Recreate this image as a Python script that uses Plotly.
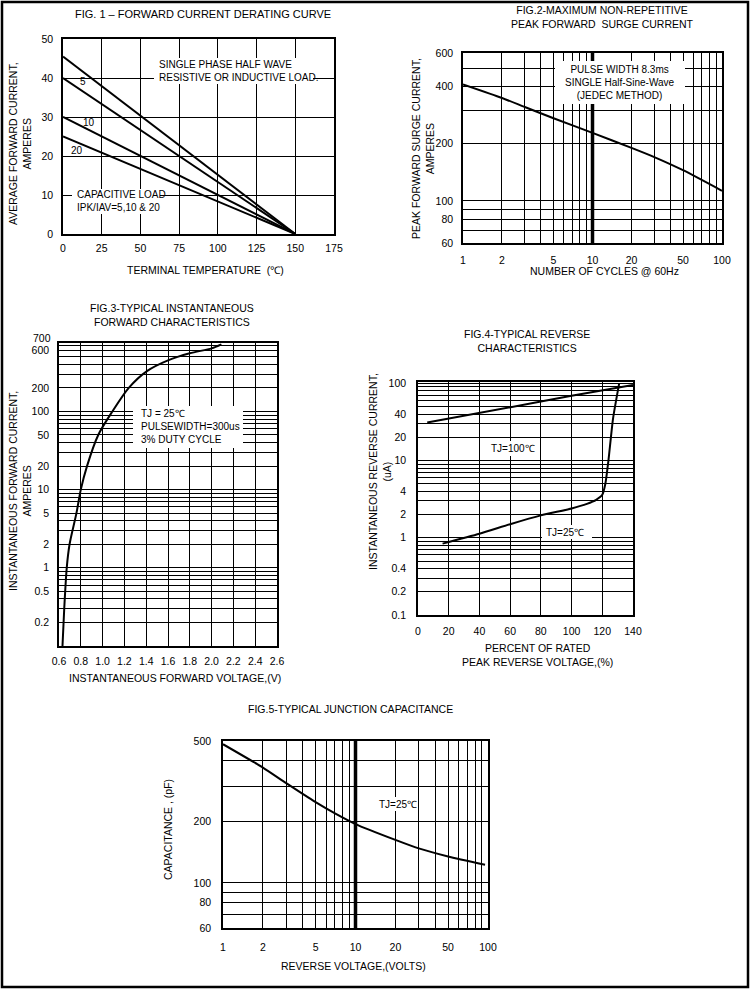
import math
import plotly.graph_objects as go

W, H = 750, 990
FONT = "Liberation Sans, Arial, sans-serif"

# ---------------- data ----------------
# Fig.1 forward current derating
f1_temp = [0, 150]
f1_resistive = [45.5, 0]
f1_cap5 = [40, 0]
f1_cap10 = [30, 0]
f1_cap20 = [25, 0]
f1_xticks = [0, 25, 50, 75, 100, 125, 150, 175]
f1_yticks = [0, 10, 20, 30, 40, 50]

# Fig.2 peak forward surge current
f2_cycles = [1, 2, 3, 5, 10, 20, 30, 50, 100]
f2_current = [410, 348, 312, 272, 228, 190, 170, 145, 113]
f2_xgrid = [1, 2, 3, 4, 5, 6, 7, 8, 9, 10, 20, 30, 40, 50, 60, 70, 80, 90, 100]
f2_xlabels = ["1", "2", "", "", "5", "", "", "", "", "10", "20", "", "", "50", "", "", "", "", "100"]
f2_ygrid = [60, 70, 80, 90, 100, 200, 300, 400, 500, 600]
f2_ylabels = ["60", "", "80", "", "100", "200", "", "400", "", "600"]

# Fig.3 forward characteristics
f3_voltage = [0.632, 0.648, 0.671, 0.697, 0.76, 0.80, 0.857, 0.96, 1.09, 1.24, 1.41, 1.6, 1.8, 2.0, 2.09]
f3_current = [0.1, 0.3, 1, 2, 5, 10, 20, 50, 100, 200, 330, 450, 555, 640, 720]
f3_xticks = [0.6, 0.8, 1.0, 1.2, 1.4, 1.6, 1.8, 2.0, 2.2, 2.4, 2.6]
f3_ygrid = [0.1, 0.2, 0.3, 0.4, 0.5, 0.6, 0.7, 0.8, 0.9,
            1, 2, 3, 4, 5, 6, 7, 8, 9,
            10, 20, 30, 40, 50, 60, 70, 80, 90,
            100, 200, 300, 400, 500, 600, 700]
f3_ylabels = ["", "0.2", "", "", "0.5", "", "", "", "",
              "1", "2", "", "", "5", "", "", "", "",
              "10", "20", "", "", "50", "", "", "", "",
              "100", "200", "", "", "", "600", ""]
f3_top_label = "700"

# Fig.4 reverse characteristics
f4_pct_100 = [6, 40, 60, 80, 100, 120, 140]
f4_ir_100 = [31, 41, 49, 58, 69, 81, 95]
f4_pct_25 = [16, 40, 60, 80, 100, 110, 116, 120, 122, 124, 127, 131]
f4_ir_25 = [0.84, 1.13, 1.5, 1.95, 2.4, 2.75, 3.1, 3.6, 5, 10, 35, 100]
f4_xticks = [0, 20, 40, 60, 80, 100, 120, 140]
f4_ygrid = [0.1, 0.2, 0.3, 0.4, 0.5, 0.6, 0.7, 0.8, 0.9,
            1, 2, 3, 4, 5, 6, 7, 8, 9,
            10, 20, 30, 40, 50, 60, 70, 80, 90, 100]
f4_ylabels = ["0.1", "0.2", "", "0.4", "", "", "", "", "",
              "1", "2", "", "4", "", "", "", "", "",
              "10", "20", "", "40", "", "", "", "", "", "100"]

# Fig.5 junction capacitance
f5_vr = [1, 2, 3, 5, 7, 10, 20, 30, 50, 95]
f5_cap = [482, 370, 310, 250, 220, 195, 163, 148, 135, 123]
f5_xgrid = f2_xgrid
f5_xlabels = f2_xlabels
f5_ygrid = [60, 70, 80, 90, 100, 200, 300, 400, 500]
f5_ylabels = ["60", "", "80", "", "100", "200", "", "", "500"]

# ---------------- helpers ----------------
def px(x):
    return x / W


def py(y):
    return 1 - y / H


def dom(x0, x1, y0, y1):
    return [px(x0), px(x1)], [py(y1), py(y0)]


def axis(domain, anchor, standoff=4, **kw):
    d = dict(domain=domain, anchor=anchor, showgrid=True, gridcolor="black", gridwidth=1,
             showline=True, mirror=True, linecolor="black", linewidth=1.5,
             zeroline=False, ticks="", ticklabelstandoff=standoff, automargin=False,
             tickfont=dict(family=FONT, size=10.5, color="black"), fixedrange=True)
    d.update(kw)
    return d


line = dict(color="black", width=2)
fig = go.Figure()

for ys in (f1_resistive, f1_cap5, f1_cap10, f1_cap20):
    fig.add_trace(go.Scatter(x=f1_temp, y=ys, mode="lines", line=line, xaxis="x", yaxis="y",
                             showlegend=False, hoverinfo="skip"))
fig.add_trace(go.Scatter(x=f2_cycles, y=f2_current, mode="lines", line=dict(line, shape="spline", smoothing=0.6),
                         xaxis="x2", yaxis="y2", showlegend=False))
fig.add_trace(go.Scatter(x=f3_voltage, y=f3_current, mode="lines", line=dict(line, shape="spline", smoothing=0.8),
                         xaxis="x3", yaxis="y3", showlegend=False))
fig.add_trace(go.Scatter(x=f4_pct_100, y=f4_ir_100, mode="lines", line=line,
                         xaxis="x4", yaxis="y4", showlegend=False))
fig.add_trace(go.Scatter(x=f4_pct_25, y=f4_ir_25, mode="lines", line=dict(line, shape="spline", smoothing=0.6),
                         xaxis="x4", yaxis="y4", showlegend=False))
fig.add_trace(go.Scatter(x=f5_vr, y=f5_cap, mode="lines", line=dict(line, shape="spline", smoothing=0.6),
                         xaxis="x5", yaxis="y5", showlegend=False))

d1x, d1y = dom(63, 334, 39, 234)
d2x, d2y = dom(463, 722, 53, 243)
d3x, d3y = dom(59, 277, 343, 646)
d4x, d4y = dom(418, 633, 382, 615)
d5x, d5y = dom(223, 488, 741, 928)

fig.update_layout(
    width=W, height=H, margin=dict(l=0, r=0, t=0, b=0, pad=0, autoexpand=False),
    paper_bgcolor="white", plot_bgcolor="white", showlegend=False,
    font=dict(family=FONT, size=10.5, color="black"),
    xaxis=axis(d1x, "y", standoff=4, range=[0, 175], tickvals=f1_xticks),
    yaxis=axis(d1y, "x", standoff=6, range=[0, 50], tickvals=f1_yticks),
    xaxis2=axis(d2x, "y2", standoff=7, type="log", range=[0, 2], tickvals=f2_xgrid, ticktext=f2_xlabels),
    yaxis2=axis(d2y, "x2", standoff=6, type="log", range=[math.log10(60), math.log10(600)],
                tickvals=f2_ygrid, ticktext=f2_ylabels),
    xaxis3=axis(d3x, "y3", standoff=5, range=[0.6, 2.6], tickvals=f3_xticks,
                ticktext=[f"{v:.1f}" for v in f3_xticks]),
    yaxis3=axis(d3y, "x3", standoff=6, type="log", range=[math.log10(0.1), math.log10(750)],
                tickvals=f3_ygrid, ticktext=f3_ylabels),
    xaxis4=axis(d4x, "y4", standoff=6, range=[0, 140], tickvals=f4_xticks),
    yaxis4=axis(d4y, "x4", standoff=8, type="log", range=[math.log10(0.1), math.log10(104)],
                tickvals=f4_ygrid, ticktext=f4_ylabels),
    xaxis5=axis(d5x, "y5", standoff=9, type="log", range=[0, 2], tickvals=f5_xgrid, ticktext=f5_xlabels),
    yaxis5=axis(d5y, "x5", standoff=8, type="log", range=[math.log10(60), math.log10(500)],
                tickvals=f5_ygrid, ticktext=f5_ylabels),
)

shapes = []
# thick decade lines at 10
for xa, ya in (("x2", "y2"), ("x5", "y5")):
    shapes.append(dict(type="line", xref=xa, yref=f"{ya} domain", x0=10, x1=10, y0=0, y1=1,
                       line=dict(color="black", width=3.5), layer="below"))
# white text boxes (in paper space)
for (x0, y0, x1, y1) in [(154, 58, 313, 84), (72, 189, 160, 214), (555, 61, 685, 104),
                         (133, 406, 243, 448), (490, 441, 537, 456), (542, 525, 592, 539),
                         (380, 797, 417, 811)]:
    shapes.append(dict(type="rect", xref="paper", yref="paper", x0=px(x0), x1=px(x1), y0=py(y1), y1=py(y0),
                       line=dict(width=0), fillcolor="white", layer="above"))
# outer frame
shapes.append(dict(type="rect", xref="paper", yref="paper", x0=px(2), x1=px(748), y0=py(987), y1=py(2),
                   line=dict(color="black", width=2.5), fillcolor="rgba(0,0,0,0)", layer="above"))
fig.update_layout(shapes=shapes)

ann = []


def text(x, y, s, size=10.5, xanchor="center", angle=0, align="center"):
    ann.append(dict(x=px(x), y=py(y), xref="paper", yref="paper", text=s, showarrow=False,
                    xanchor=xanchor, yanchor="middle", textangle=angle, align=align,
                    font=dict(family=FONT, size=size, color="black")))


# titles
text(203, 14, "FIG. 1 – FORWARD CURRENT DERATING CURVE", size=11)
text(602, 17, "FIG.2-MAXIMUM NON-REPETITIVE<br>PEAK FORWARD  SURGE CURRENT")
text(172, 315, "FIG.3-TYPICAL INSTANTANEOUS<br>FORWARD CHARACTERISTICS")
text(527, 341, "FIG.4-TYPICAL REVERSE<br>CHARACTERISTICS")
text(350, 709, "FIG.5-TYPICAL JUNCTION CAPACITANCE")
# x axis titles
text(205, 270, "TERMINAL TEMPERATURE  (℃)")
text(604, 271, "NUMBER OF CYCLES @ 60Hz")
text(175, 678, "INSTANTANEOUS FORWARD VOLTAGE,(V)")
text(537, 655, "PERCENT OF RATED<br>PEAK REVERSE VOLTAGE,(%)")
text(353, 966, "REVERSE VOLTAGE,(VOLTS)")
# y axis titles
text(20, 144, "AVERAGE FORWARD CURRENT,<br>AMPERES", angle=-90)
text(423, 148, "PEAK FORWARD SURGE CURRENT,<br>AMPERES", angle=-90)
text(20, 491, "INSTANTANEOUS FORWARD CURRENT,<br>AMPERES", angle=-90)
text(380, 472, "INSTANTANEOUS REVERSE CURRENT,<br>(uA)", angle=-90)
text(168, 830, "CAPACITANCE , (pF)", angle=-90)
# top tick label of fig.3 (sits just above the 600 label)
text(53, 338, f3_top_label, xanchor="right")
# in-plot notes
text(157, 71, "SINGLE PHASE HALF WAVE<br>RESISTIVE OR INDUCTIVE LOAD.", size=10, xanchor="left", align="left")
text(75, 201, "CAPACITIVE LOAD<br>IPK/IAV=5,10 & 20", size=10, xanchor="left", align="left")
text(83, 82, "5", size=10)
text(89, 122, "10", size=10)
text(77, 151, "20", size=10)
text(620, 83, "PULSE WIDTH 8.3ms<br>SINGLE Half-Sine-Wave<br>(JEDEC METHOD)", size=10)
text(139, 426, "TJ = 25℃<br>PULSEWIDTH=300us<br>3% DUTY CYCLE", size=10, xanchor="left", align="left")
text(513, 449, "TJ=100℃", size=10)
text(565, 532, "TJ=25℃", size=10)
text(398, 804, "TJ=25℃", size=10)

fig.update_layout(annotations=ann)
fig.write_html("out.html", config={"displayModeBar": False},
               post_script="document.body.style.margin='0';document.body.style.overflow='hidden';")
